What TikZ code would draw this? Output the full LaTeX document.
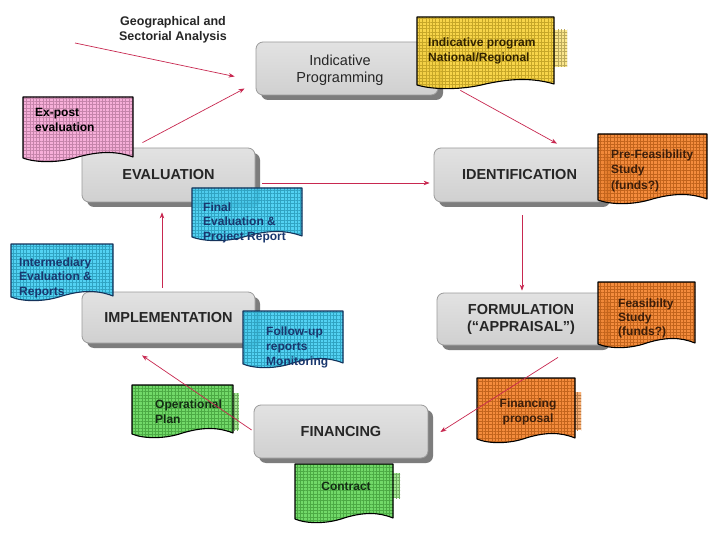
\documentclass[tikz,border=0pt]{standalone}
\usepackage{fontspec}
\setmainfont{Liberation Sans}
\usetikzlibrary{calc,patterns.meta,shadows,arrows.meta}
\definecolor{arrcol}{RGB}{200,40,80}
\definecolor{procborder}{RGB}{155,155,155}
\definecolor{proctop}{RGB}{226,226,226}
\definecolor{procbot}{RGB}{208,208,208}
\definecolor{shadowgray}{RGB}{125,125,125}
\definecolor{docyellow}{RGB}{248,208,50}
\definecolor{tabyellow}{RGB}{250,226,120}
\definecolor{docpink}{RGB}{246,165,212}
\definecolor{doccyan}{RGB}{60,204,242}
\definecolor{cyanborder}{RGB}{20,50,90}
\definecolor{cyantext}{RGB}{25,55,110}
\definecolor{docorange}{RGB}{243,125,35}
\definecolor{taborange}{RGB}{246,160,90}
\definecolor{orangetext}{RGB}{60,30,10}
\definecolor{docgreen}{RGB}{95,212,85}
\definecolor{tabgreen}{RGB}{150,230,130}
\definecolor{greentext}{RGB}{20,45,20}
\definecolor{yellowtext}{RGB}{50,35,0}
\tikzset{gridpat/.style={pattern={Lines[distance=3.3pt,line width=0.3pt]}, pattern color=#1},
  gridpatv/.style={pattern={Lines[angle=90,distance=3.3pt,line width=0.3pt]}, pattern color=#1}}
% document shape path: x0, y0, x1, y-bottom
\newcommand{\mydocpath}[4]{(#1,#2) -- (#3,#2) -- (#3,#4)
  .. controls ({#3-0.15*(#3-#1)},{#4-6}) and ({#1+0.7*(#3-#1)},{#4-6}) .. ({#1+0.5*(#3-#1)},#4)
  .. controls ({#1+0.33*(#3-#1)},{#4+6}) and ({#1+0.12*(#3-#1)},{#4+6}) .. (#1,{#4+1}) -- cycle}
% x0, y0, x1, yb, fill, border
\newcommand{\mydoc}[6]{%
  \fill[#5, fill opacity=0.88] \mydocpath{#1}{#2}{#3}{#4};
  \fill[gridpat=#5!80!black, fill opacity=0.15] \mydocpath{#1}{#2}{#3}{#4};
  \fill[gridpatv=#5!80!black, fill opacity=0.15] \mydocpath{#1}{#2}{#3}{#4};
  \draw[#6, line width=1.1pt, line join=round] \mydocpath{#1}{#2}{#3}{#4};}
% tab: x0,y0,x1,y1,color
\newcommand{\mytab}[5]{%
  \fill[#5, fill opacity=0.85] (#1,#2) rectangle (#3,#4);
  \fill[gridpat=#5!75!black, fill opacity=0.2] (#1,#2) rectangle (#3,#4);
  \fill[gridpatv=#5!75!black, fill opacity=0.2] (#1,#2) rectangle (#3,#4);}
\begin{document}
\begin{tikzpicture}[x=1pt,y=-1pt,
  proc/.style={draw=procborder, line width=0.8pt, rounded corners=7pt,
    top color=proctop, bottom color=procbot,
    drop shadow={shadow xshift=5pt, shadow yshift=-5pt, fill=shadowgray, opacity=1},
    inner sep=0pt, align=center, text=black!85,
    font=\fontsize{14.5}{17}\selectfont\bfseries},
  proctext/.style={inner sep=0pt, align=center, text=black!85,
    font=\fontsize{14.5}{17}\selectfont},
  doctext/.style={inner sep=0pt, anchor=north west, align=left,
    font=\fontsize{12}{15}\selectfont\bfseries},
  conn/.style={draw=arrcol, line width=0.7pt, -{Stealth[length=6pt,width=4.5pt]}}]
\useasboundingbox (0,0) rectangle (720,540);
\fill[white] (0,0) rectangle (720,540);

% process boxes
\node[proc, minimum width=182pt, minimum height=53pt] (ip) at (347,68.5) {};
\node[proctext] (iptext) at (340,70) {Indicative\\Programming};
\node[proc, minimum width=173pt, minimum height=54pt] (ev) at (168.5,175) {EVALUATION};
\node[proc, minimum width=171pt, minimum height=54pt] (id) at (519.5,175) {IDENTIFICATION};
\node[proc, minimum width=168pt, minimum height=52pt] (fo) at (521,319) {FORMULATION\\(``APPRAISAL'')};
\node[proc, minimum width=173pt, minimum height=51pt] (im) at (168.5,317.5) {IMPLEMENTATION};
\node[proc, minimum width=174pt, minimum height=53pt] (fi) at (341,431.5) {FINANCING};

% top label
\node[inner sep=0pt, align=center, font=\fontsize{12.5}{15}\selectfont\bfseries, text=black!85] (geo) at (173,29.5) {Geographical and\\Sectorial Analysis};

% documents
\mytab{554}{30}{567}{67}{tabyellow}
\mydoc{417}{17}{554}{84}{docyellow}{black}
\node[doctext, text=yellowtext] (d1) at (428,37.5) {Indicative program\\National/Regional};

\mydoc{23}{97}{133}{157}{docpink}{black}
\node[doctext, text=black] (d2) at (35,108.5) {Ex-post\\evaluation};

\mydoc{192}{188}{302}{236}{doccyan}{cyanborder}
\node[doctext, text=cyantext, font=\fontsize{12}{14.5}\selectfont\bfseries] (d3) at (203,202.5) {Final\\Evaluation \&\\Project Report};

\mydoc{598}{134}{707}{199}{docorange}{black}
\node[doctext, text=orangetext, font=\fontsize{12}{15.5}\selectfont\bfseries] (d4) at (611,149.5) {Pre-Feasibility\\Study\\(funds?)};

\mydoc{11}{244}{113}{296}{doccyan}{cyanborder}
\node[doctext, text=cyantext, font=\fontsize{12}{14.5}\selectfont\bfseries] (d5) at (19,257.5) {Intermediary\\Evaluation \&\\Reports};

\mydoc{243}{311}{343}{363}{doccyan}{cyanborder}
\node[doctext, text=cyantext] (d6) at (266,326.5) {Follow-up\\reports\\Monitoring};

\mydoc{598}{282}{695}{343}{docorange}{black}
\node[doctext, text=orangetext, font=\fontsize{12}{14}\selectfont\bfseries] (d7) at (618,298.5) {Feasibilty\\Study\\(funds?)};

\mytab{575}{392}{581}{430}{taborange}
\mydoc{477}{378}{575}{438}{docorange}{black}
\node[inner sep=0pt, align=center, text=orangetext, font=\fontsize{12}{15}\selectfont\bfseries] (d8) at (528,411.5) {Financing\\proposal};

\mytab{233}{393}{239}{430}{tabgreen}
\mydoc{132}{385}{233}{433}{docgreen}{black}
\node[doctext, text=greentext] (d9) at (155,399.5) {Operational\\Plan};

\mytab{393}{473}{400}{498}{tabgreen}
\mydoc{295}{464}{393}{518}{docgreen}{black}
\node[inner sep=0pt, align=center, text=greentext, font=\fontsize{12}{15}\selectfont\bfseries] (d10) at (346,486) {Contract};

% connectors
\coordinate (geoS) at (75,43);
\draw[conn] (geoS) -- ($(ip.west)+(-21,8)$);
\draw[conn] ($(ev.north)+(-26,-5)$) -- ($(ip.west)+(-11,20)$);
\draw[conn] ($(ip.south east)+(22,-5)$) -- ($(id.north)+(37.5,-4)$);
\draw[conn] ($(ev.east)+(7,8)$) -- ($(id.west)+(-4,8)$);
\draw[conn] ($(id.south)+(2.5,13)$) -- ($(fo.north)+(1,-2)$);
\draw[conn] ($(fo.south)+(37,12)$) -- ($(fi.east)+(12,0.5)$);
\draw[conn] ($(fi.west)+(-2,-1.5)$) -- ($(im.south)+(-26.5,12)$);
\draw[conn] ($(im.north)+(-6.5,-4)$) -- ($(ev.south)+(-6.5,10)$);
\end{tikzpicture}
\end{document}
